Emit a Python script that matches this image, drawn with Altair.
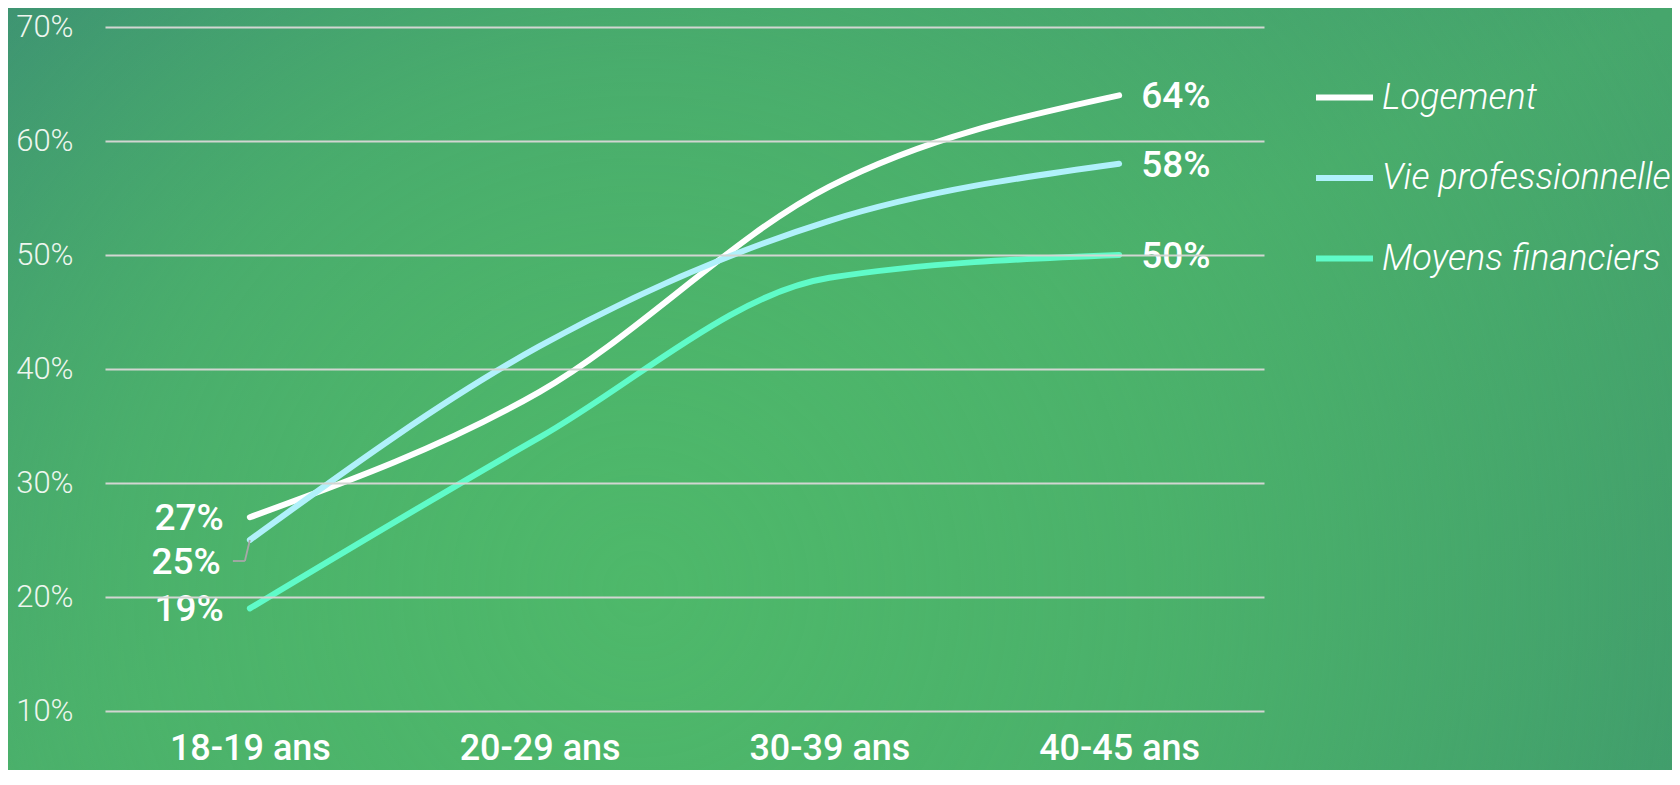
import altair as alt
import pandas as pd

# ---- data ----
categories = ["18-19 ans", "20-29 ans", "30-39 ans", "40-45 ans"]
series_names = ["Logement", "Vie professionnelle", "Moyens financiers"]
logement = [27, 38, 56, 64]
vie_pro = [25, 42, 53, 58]
moyens = [19, 34, 48, 50]
series_colors = ["#ffffff", "#b0f1fb", "#5ffbc8"]
y_ticks = [10, 20, 30, 40, 50, 60, 70]

rows = []
for name, vals in zip(series_names, [logement, vie_pro, moyens]):
    for c, v in zip(categories, vals):
        rows.append({"age": c, "serie": name, "valeur": v})
df = pd.DataFrame(rows)

W, H = 1159, 684
PAD = {"left": 97, "top": 19, "right": 408, "bottom": 59}

FONT = "Roboto"

x_enc = alt.X("age:N", sort=categories,
              scale=alt.Scale(type="point", padding=0.5),
              axis=alt.Axis(title=None, labelAngle=0, labelFontSize=36,
                            labelFontWeight=500, labelColor="#ffffff",
                            labelPadding=20, ticks=False, domain=False,
                            grid=False, labelFont=FONT, zindex=1))
y_enc = alt.Y("valeur:Q", scale=alt.Scale(domain=[10, 70], nice=False, zero=False),
              axis=alt.Axis(title=None, values=y_ticks, labelExpr="datum.value + '%'",
                            labelFontSize=31, labelFontWeight=300, labelColor="#eef6ef",
                            labelPadding=32, ticks=False, domain=False,
                            grid=True, gridColor="#d2d6d2", gridWidth=2,
                            labelFont=FONT, zindex=1))

# background gradient (decoration only)
bg_base = alt.Chart(pd.DataFrame({"a": [0]})).mark_rect(
    fill=alt.LinearGradient(
        gradient="linear",
        stops=[alt.GradientStop(color="#368276", offset=0),
               alt.GradientStop(color="#46a66c", offset=0.5),
               alt.GradientStop(color="#3f9a6c", offset=1)],
        x1=0, y1=0, x2=1, y2=1),
    stroke=None,
).encode(x=alt.value(-PAD["left"]), x2=alt.value(W + PAD["right"]),
         y=alt.value(-PAD["top"]), y2=alt.value(H + PAD["bottom"]))

bg_glow = alt.Chart(pd.DataFrame({"a": [0]})).mark_rect(
    fill=alt.RadialGradient(
        gradient="radial",
        stops=[alt.GradientStop(color="rgba(78,184,106,1)", offset=0),
               alt.GradientStop(color="rgba(78,184,106,0.7)", offset=0.45),
               alt.GradientStop(color="rgba(78,184,106,0)", offset=1)],
        x1=0.38, y1=0.62, r1=0, x2=0.38, y2=0.62, r2=0.7),
    stroke=None,
).encode(x=alt.value(-PAD["left"]), x2=alt.value(W + PAD["right"]),
         y=alt.value(-PAD["top"]), y2=alt.value(H + PAD["bottom"]))

base = alt.Chart(df)

lines = base.mark_line(interpolate="monotone", strokeWidth=6, strokeCap="round").encode(
    x=x_enc, y=y_enc,
    color=alt.Color("serie:N", sort=series_names,
                    scale=alt.Scale(domain=series_names, range=series_colors),
                    legend=alt.Legend(title=None, orient="none",
                                      legendX=1208, legendY=39,
                                      symbolType="stroke", symbolSize=3249,
                                      symbolStrokeWidth=6, labelOffset=6,
                                      rowPadding=30.5, padding=0,
                                      labelFontSize=36, labelFontStyle="italic",
                                      labelFontWeight=300, labelColor="#ffffff",
                                      labelFont=FONT, labelLimit=0)),
)

first = categories[0]
last = categories[-1]

# leader line for the 25% label
lead_v = base.transform_filter(
    (alt.datum.age == first) & (alt.datum.serie == "Vie professionnelle")
).mark_rule(color="#a8a8a8", strokeWidth=1.8, x2Offset=-5, y2Offset=21).encode(
    x=alt.X("age:N", sort=categories), y="valeur:Q",
    x2=alt.X2("age:N"), y2=alt.Y2("valeur:Q"))
lead_h = base.transform_filter(
    (alt.datum.age == first) & (alt.datum.serie == "Vie professionnelle")
).mark_rule(color="#a8a8a8", strokeWidth=1.8, xOffset=-5, yOffset=21,
            x2Offset=-17, y2Offset=21).encode(
    x=alt.X("age:N", sort=categories), y="valeur:Q",
    x2=alt.X2("age:N"), y2=alt.Y2("valeur:Q"))

label_kw = dict(font=FONT, fontSize=37, fontWeight=500, color="#ffffff", baseline="middle")

left_labels = base.transform_filter(
    (alt.datum.age == first) & (alt.datum.serie != "Vie professionnelle")
).mark_text(align="right", dx=-26, dy=2, **label_kw).encode(
    x=alt.X("age:N", sort=categories), y="valeur:Q",
    text=alt.Text("lbl:N")).transform_calculate(lbl="datum.valeur + '%'")

left_label_vp = base.transform_filter(
    (alt.datum.age == first) & (alt.datum.serie == "Vie professionnelle")
).mark_text(align="right", dx=-29, dy=23, **label_kw).encode(
    x=alt.X("age:N", sort=categories), y="valeur:Q",
    text=alt.Text("lbl:N")).transform_calculate(lbl="datum.valeur + '%'")

right_labels = base.transform_filter(
    alt.datum.age == last
).mark_text(align="left", dx=22, dy=2, **label_kw).encode(
    x=alt.X("age:N", sort=categories), y="valeur:Q",
    text=alt.Text("lbl:N")).transform_calculate(lbl="datum.valeur + '%'")

chart = alt.layer(
    bg_base, bg_glow, lines, lead_v, lead_h, left_labels, left_label_vp, right_labels
).properties(
    width=W, height=H,
    autosize=alt.AutoSizeParams(type="none"),
    padding=PAD,
    background="#45a06c",
).configure_view(stroke=None).configure(font=FONT)

chart.save("out.html", embed_options={"renderer": "svg", "actions": False})
